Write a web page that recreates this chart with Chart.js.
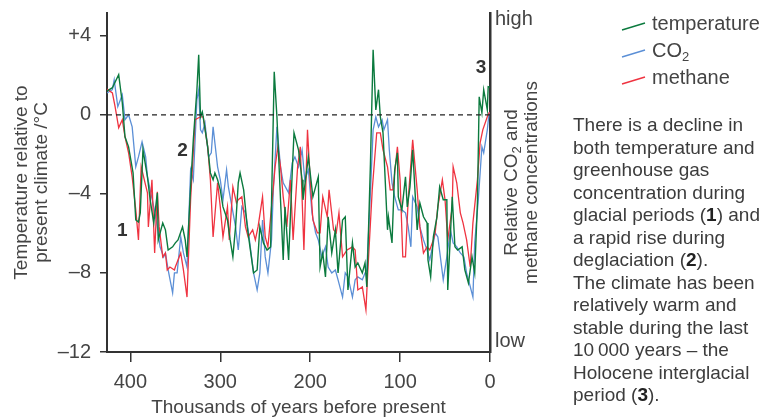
<!DOCTYPE html>
<html>
<head>
<meta charset="utf-8">
<script src="https://cdn.jsdelivr.net/npm/chart.js@4.4.1/dist/chart.umd.min.js"></script>
<style>
  body { margin: 0; background: #fff; }
  #wrap { position: relative; width: 765px; height: 418px; font-family: "Liberation Sans", Arial, sans-serif; color: #444; }
  #grafico { position: absolute; left: 0; top: 0; }
  .leg { position: absolute; left: 652px; font-size: 20px; line-height: 24px; white-space: nowrap; }
  .leg sub { font-size: 13px; vertical-align: -4px; line-height: 0; }
  #texto { position: absolute; left: 573px; top: 114px; font-size: 19px; line-height: 22.5px; white-space: nowrap; color: #3c3c3c; }
  #texto b { color: #222; }
  #linhas { position: absolute; left: 0; top: 0; }
</style>
</head>
<body>
<div id="wrap">
  <canvas id="grafico" width="765" height="418"></canvas>
  <svg id="linhas" width="765" height="418">
    <line x1="622" y1="30" x2="645" y2="23" stroke="#0b7a3e" stroke-width="1.4"/>
    <line x1="622" y1="57" x2="645" y2="50" stroke="#5b8fd6" stroke-width="1.4"/>
    <line x1="622" y1="84" x2="645" y2="77" stroke="#ef3340" stroke-width="1.4"/>
  </svg>
  <div class="leg" style="top:11px">temperature</div>
  <div class="leg" style="top:38px">CO<sub>2</sub></div>
  <div class="leg" style="top:65px">methane</div>
  <div id="texto">
    There is a decline in<br>
    both temperature and<br>
    greenhouse gas<br>
    concentration during<br>
    glacial periods (<b>1</b>) and<br>
    a rapid rise during<br>
    deglaciation (<b>2</b>).<br>
    The climate has been<br>
    relatively warm and<br>
    stable during the last<br>
    10&thinsp;000 years – the<br>
    Holocene interglacial<br>
    period (<b>3</b>).
  </div>
</div>
<script>
// DADOS (mil anos antes do presente / valor relativo)
const tempAge = [426, 420, 413, 409, 406, 402, 397, 394, 391, 389, 386, 381, 378, 374, 370, 369, 364, 361, 358, 353, 350, 347, 342, 339, 337, 333, 330, 326, 324, 322, 320, 319, 314, 311, 308, 306, 303, 300, 297, 292, 289, 286, 283, 280, 278, 274, 270, 267, 263, 259, 256, 252, 248, 244, 240, 237, 233, 230, 228, 224, 220, 218, 213, 209, 208, 202, 197, 191, 189, 186, 183, 180, 176, 172, 169, 164, 161, 158, 153, 150, 147, 142, 139, 137, 133, 130, 127, 124, 122, 119, 114, 113, 109, 106, 103, 102, 98, 94, 92, 89, 86, 81, 78, 74, 70, 69, 66, 63, 59, 56, 52, 48, 47, 42, 39, 36, 31, 28, 24, 20, 17, 14, 12, 9, 7, 3, 2, 0];
const tempVal = [1.2, 1.37, 2.03, 0.61, -1.11, -1.62, -2.94, -5.32, -5.42, -4.96, -1.77, -3.14, -4.3, -5.47, -3.95, -6.33, -5.47, -5.82, -6.84, -6.68, -6.48, -6.33, -5.67, -6.33, -7.19, -3.65, -1.27, 1.27, 3.04, -0.1, 0.15, -0.1, -1.62, -2.94, -3.29, -2.94, -3.29, -3.8, -4.66, -5.32, -6.33, -7.19, -5.67, -3.44, -2.94, -3.8, -5.67, -6.68, -8.0, -7.85, -5.67, -6.48, -6.84, -6.68, 2.18, -0.1, -4.3, -7.34, -4.66, -7.34, -2.94, -0.91, -1.77, -3.29, -4.3, -2.13, -4.15, -3.14, -7.7, -6.99, -8.2, -5.16, -6.99, -5.82, -8.0, -5.32, -5.16, -8.86, -6.48, -7.7, -7.49, -8.0, -7.49, -8.71, -2.5, 3.29, 0.25, 1.27, -0.1, -0.91, -5.82, -5.16, -6.48, -2.78, -1.92, -4.15, -4.81, -3.14, -4.66, -3.65, -1.77, -5.82, -4.46, -5.16, -5.47, -7.34, -8.2, -6.18, -5.16, -3.65, -4.3, -4.3, -8.86, -4.15, -6.68, -6.84, -6.68, -7.85, -8.51, -7.19, -8.0, -4.46, 0.91, 0.1, 1.27, 0.25, 1.42, 1.4];

const co2Age = [426, 420, 418, 414, 409, 406, 402, 398, 394, 391, 387, 383, 381, 378, 374, 370, 367, 363, 361, 358, 353, 351, 348, 344, 341, 337, 333, 330, 326, 324, 322, 320, 317, 313, 310, 308, 303, 300, 297, 293, 291, 287, 283, 280, 276, 272, 269, 263, 259, 256, 253, 250, 247, 243, 241, 237, 233, 230, 224, 220, 217, 213, 209, 206, 202, 198, 194, 191, 187, 183, 180, 176, 172, 169, 164, 161, 158, 153, 150, 147, 142, 139, 137, 133, 130, 127, 124, 120, 118, 114, 112, 109, 106, 102, 98, 94, 91, 88, 86, 81, 78, 74, 70, 67, 63, 61, 58, 52, 48, 44, 41, 37, 33, 29, 26, 23, 19, 17, 13, 9, 7, 3, 1, 0];
const co2Val = [1.1, 1.27, 1.77, 0.41, 1.01, -0.25, 0, -0.61, -2.63, -2.13, -1.37, -2.13, -3.14, -3.8, -4.66, -5.67, -6.68, -7.19, -6.99, -7.85, -9.01, -8.0, -8.0, -6.18, -6.99, -7.7, -2.78, -3.29, 0.76, 1.27, -0.76, -0.91, -0.41, -2.13, -1.92, -0.61, -2.63, -3.29, -4.3, -2.78, -3.65, -4.66, -5.67, -6.84, -4.66, -4.96, -5.82, -8.0, -8.86, -8.0, -5.32, -7.19, -8.0, -6.33, -3.8, -0.61, -2.63, -3.44, -3.95, -2.43, -2.13, -2.63, -1.77, -3.3, -2.78, -4.96, -5.97, -6.33, -7.19, -6.68, -7.7, -8.0, -7.85, -8.35, -9.22, -8.0, -8.2, -9.22, -8.35, -8.2, -8.35, -8.0, -7.85, -3.95, -0.76, -0.1, -0.61, -0.25, -0.76, -0.25, -1.77, -3.44, -4.15, -4.81, -4.81, -4.96, -5.67, -6.68, -4.15, -4.66, -5.67, -6.33, -6.84, -7.34, -6.48, -5.97, -6.18, -8.35, -7.19, -5.82, -6.48, -6.68, -6.99, -7.19, -8.0, -8.51, -9.22, -6.48, -4.3, -1.62, -1.92, -0.76, 0.1, 0.1];

const ch4Age = [426, 420, 417, 413, 409, 406, 402, 398, 394, 391, 388, 381, 380, 376, 373, 370, 368, 364, 361, 359, 356, 351, 350, 344, 341, 337, 333, 328, 322, 319, 314, 311, 308, 303, 300, 297, 292, 290, 286, 282, 280, 276, 272, 269, 264, 261, 258, 253, 250, 247, 242, 239, 236, 233, 230, 226, 222, 219, 214, 211, 207, 203, 200, 197, 192, 189, 186, 181, 179, 174, 171, 168, 164, 159, 153, 150, 147, 142, 138, 136, 131, 126, 122, 119, 114, 111, 108, 103, 100, 97, 94, 91, 86, 81, 78, 74, 70, 67, 63, 61, 58, 53, 50, 47, 42, 41, 37, 33, 30, 26, 22, 19, 14, 11, 8, 3, 1, 0];
const ch4Val = [1.3, 1.11, 0.41, -0.66, -0.25, -1.11, -1.92, -3.14, -4.81, -6.33, -2.63, -3.95, -5.67, -3.29, -6.99, -3.9, -5.67, -7.19, -6.99, -7.85, -7.7, -7.85, -7.7, -6.99, -7.85, -9.22, -4.3, -0.25, -0.1, -0.1, -1.62, -3.29, -6.18, -3.44, -4.66, -6.18, -4.66, -6.33, -3.65, -4.46, -4.3, -4.15, -5.67, -6.18, -5.82, -6.33, -5.67, -4.15, -6.18, -6.68, -4.15, -2.63, -1.62, -2.63, -4.15, -5.67, -3.29, -6.33, -2.63, -1.62, -6.84, -0.76, -3.29, -5.32, -5.97, -5.97, -4.15, -5.16, -3.8, -5.82, -5.97, -4.96, -7.19, -6.84, -6.68, -6.84, -8.86, -8.71, -9.87, -8.0, -3.8, -0.91, -0.91, -1.77, -2.63, -3.8, -3.8, -1.62, -3.29, -7.19, -7.19, -4.3, -1.27, -3.8, -5.67, -6.99, -6.68, -6.84, -6.33, -5.97, -4.66, -3.29, -4.3, -6.33, -4.66, -2.63, -3.44, -4.96, -5.47, -6.33, -7.7, -5.47, -3.29, -1.42, -0.76, -0.1, 0.1, 0.1];

// rotulos numerados (1, 2, 3)
const marcas = ['1', '2', '3'];
const marcasAge = [409, 342, 10];
const marcasVal = [-5.85, -1.8, 2.4];

const yTicks = [4, 0, -4, -8, -12];
const xTicks = [400, 300, 200, 100, 0];

const VERDE = '#0b7a3e';
const AZUL = '#5b8fd6';
const VERMELHO = '#ef3340';
const FONTE = '"Liberation Sans", Arial, sans-serif';

function pontos(idades, valores) {
  return idades.map((a, i) => ({ x: a, y: valores[i] }));
}

// tira o espaco extra que o Chart.js reserva para os rotulos
function semPadding(s) {
  s.paddingTop = 0;
  s.paddingBottom = 0;
  s.paddingLeft = 0;
  s.paddingRight = 0;
}

// plugin para titulo da direita e numeros
const extras = {
  id: 'extras',
  afterDraw(chart) {
    const ctx = chart.ctx;
    const xs = chart.scales.x;
    const ys = chart.scales.y;

    ctx.save();
    ctx.fillStyle = '#333';
    ctx.font = 'bold 19px ' + FONTE;
    ctx.textAlign = 'center';
    ctx.textBaseline = 'middle';
    marcas.forEach((m, i) => {
      ctx.fillText(m, xs.getPixelForValue(marcasAge[i]), ys.getPixelForValue(marcasVal[i]));
    });
    ctx.restore();

    // titulo eixo direito (rotacionado)
    const cy = (chart.chartArea.top + chart.chartArea.bottom) / 2;
    const linhas = [['Relative CO', '2', ' and'], ['methane concentrations']];
    const xsLinha = [512, 532];
    ctx.save();
    ctx.fillStyle = '#444';
    ctx.textBaseline = 'middle';
    linhas.forEach((partes, j) => {
      ctx.save();
      ctx.translate(xsLinha[j], cy);
      ctx.rotate(-Math.PI / 2);
      const fN = '19px ' + FONTE;
      const fS = '13px ' + FONTE;
      let total = 0;
      partes.forEach((p, k) => {
        ctx.font = (k === 1 ? fS : fN);
        total += ctx.measureText(p).width;
      });
      let x = -total / 2;
      ctx.textAlign = 'left';
      partes.forEach((p, k) => {
        ctx.font = (k === 1 ? fS : fN);
        ctx.fillText(p, x, k === 1 ? 5 : 0);
        x += ctx.measureText(p).width;
      });
      ctx.restore();
    });
    ctx.restore();
  }
};

const grafico = new Chart(document.getElementById('grafico'), {
  type: 'line',
  data: {
    datasets: [
      {
        label: 'zero',
        data: [{ x: 426, y: 0 }, { x: 0, y: 0 }],
        borderColor: '#222',
        borderWidth: 1.2,
        borderDash: [5, 4],
        pointRadius: 0
      },
      {
        label: 'temperature',
        data: pontos(tempAge, tempVal),
        borderColor: VERDE,
        borderWidth: 1.4,
        pointRadius: 0
      },
      {
        label: 'methane',
        data: pontos(ch4Age, ch4Val),
        borderColor: VERMELHO,
        borderWidth: 1.3,
        pointRadius: 0
      },
      {
        label: 'CO2',
        data: pontos(co2Age, co2Val),
        borderColor: AZUL,
        borderWidth: 1.3,
        pointRadius: 0
      }
    ]
  },
  options: {
    responsive: false,
    animation: false,
    layout: { padding: { top: 13, left: 0, right: 0, bottom: 0 } },
    plugins: {
      legend: { display: false },
      tooltip: { enabled: false }
    },
    scales: {
      x: {
        type: 'linear',
        reverse: true,
        min: 0,
        max: 426,
        afterFit: (s) => { s.height = 66; semPadding(s); },
        afterBuildTicks: (s) => { s.ticks = xTicks.map(v => ({ value: v })); },
        border: { display: true, color: '#333', width: 2 },
        grid: { drawOnChartArea: false, tickLength: 10, color: '#333', lineWidth: 1.5 },
        ticks: { color: '#444', font: { family: FONTE, size: 20 }, padding: 8, autoSkip: false, maxRotation: 0 },
        title: {
          display: true,
          text: 'Thousands of years before present',
          color: '#444',
          font: { family: FONTE, size: 19, lineHeight: 1.05 },
          padding: { top: 0, bottom: 0 }
        }
      },
      y: {
        position: 'left',
        min: -12,
        max: 5.15,
        afterFit: (s) => { s.width = 107; semPadding(s); },
        afterBuildTicks: (s) => { s.ticks = yTicks.map(v => ({ value: v })); },
        border: { display: true, color: '#333', width: 2 },
        grid: { drawOnChartArea: false, tickLength: 7, color: '#333', lineWidth: 1.5 },
        ticks: {
          color: '#444',
          font: { family: FONTE, size: 20 },
          padding: 9,
          callback: (v) => v > 0 ? '+' + v : (v < 0 ? '\u2013' + Math.abs(v) : '0')
        },
        title: {
          display: true,
          text: ['Temperature relative to', 'present climate /°C'],
          color: '#444',
          font: { family: FONTE, size: 19, lineHeight: 1.05 },
          padding: { top: 12, bottom: 0 }
        }
      },
      y2: {
        position: 'right',
        min: 0,
        max: 1,
        afterFit: (s) => { s.width = 275; semPadding(s); },
        afterBuildTicks: (s) => { s.ticks = [{ value: 0.032 }, { value: 0.982 }]; },
        border: { display: true, color: '#333', width: 2.5 },
        grid: { drawOnChartArea: false, drawTicks: false },
        ticks: {
          color: '#444',
          font: { family: FONTE, size: 20 },
          padding: 5,
          callback: (v) => v < 0.5 ? 'low' : 'high'
        }
      }
    }
  },
  plugins: [extras]
});
</script>
</body>
</html>
